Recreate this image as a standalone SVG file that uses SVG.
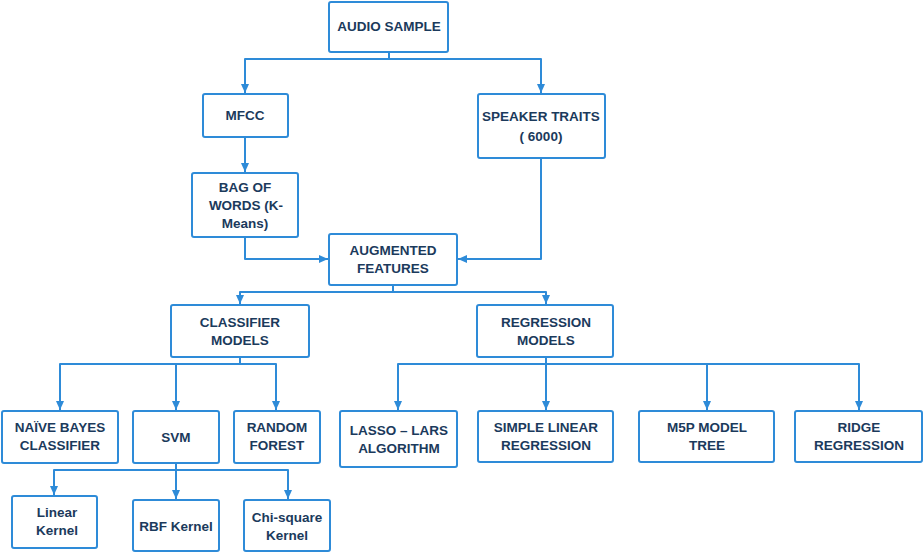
<svg xmlns="http://www.w3.org/2000/svg" width="924" height="553" viewBox="0 0 924 553">
<style>
.box{fill:#fff;stroke:#2e8bd8;stroke-width:2}
.t{font-family:"Liberation Sans",Arial,sans-serif;font-weight:bold;font-size:13.5px;fill:#1b3a5c;text-anchor:middle}
.c{fill:none;stroke:#2e8bd8;stroke-width:2;stroke-linejoin:round}
</style>
<defs>
<marker id="ah" markerUnits="userSpaceOnUse" markerWidth="10" markerHeight="10" viewBox="0 0 10 10" refX="9" refY="5" orient="auto">
<path d="M0,1 L9,5 L0,9 Z" fill="#2e8bd8"/>
</marker>
</defs>
<rect width="924" height="553" fill="#fff"/>
<g id="connectors">
<path class="c" d="M389,52 V59 H245 V93" marker-end="url(#ah)"/>
<path class="c" d="M389,52 V59 H541 V93" marker-end="url(#ah)"/>
<path class="c" d="M245,137 V172" marker-end="url(#ah)"/>
<path class="c" d="M245,237 V259 H328" marker-end="url(#ah)"/>
<path class="c" d="M541,158 V259 H458" marker-end="url(#ah)"/>
<path class="c" d="M393,285 V292 H240 V304" marker-end="url(#ah)"/>
<path class="c" d="M393,285 V292 H546 V304" marker-end="url(#ah)"/>
<path class="c" d="M240,357 V364 H60 V410" marker-end="url(#ah)"/>
<path class="c" d="M240,357 V364 H176 V410" marker-end="url(#ah)"/>
<path class="c" d="M240,357 V364 H276 V410" marker-end="url(#ah)"/>
<path class="c" d="M176,463 V470 H54 V495" marker-end="url(#ah)"/>
<path class="c" d="M176,463 V499" marker-end="url(#ah)"/>
<path class="c" d="M176,463 V470 H288 V499" marker-end="url(#ah)"/>
<path class="c" d="M546,357 V364 H398 V410" marker-end="url(#ah)"/>
<path class="c" d="M546,357 V410" marker-end="url(#ah)"/>
<path class="c" d="M546,357 V364 H707 V410" marker-end="url(#ah)"/>
<path class="c" d="M546,357 V364 H859 V410" marker-end="url(#ah)"/>
</g>
<g id="audio"><rect class="box" x="329" y="2" width="119" height="50" rx="2"/><text class="t" x="389" y="31">AUDIO SAMPLE</text></g>
<g id="mfcc"><rect class="box" x="203" y="94" width="85" height="43" rx="2"/><text class="t" x="245" y="120">MFCC</text></g>
<g id="speaker"><rect class="box" x="478" y="94" width="127" height="64" rx="2"/><text class="t" x="541" y="121">SPEAKER TRAITS</text><text class="t" x="541" y="141">( 6000)</text></g>
<g id="bow"><rect class="box" x="192" y="173" width="106" height="64" rx="2"/><text class="t" x="245" y="192">BAG OF</text><text class="t" x="246" y="210">WORDS (K-</text><text class="t" x="245" y="228">Means)</text></g>
<g id="augmented"><rect class="box" x="329" y="234" width="128" height="51" rx="2"/><text class="t" x="393" y="255">AUGMENTED</text><text class="t" x="393" y="273">FEATURES</text></g>
<g id="classifier"><rect class="box" x="171" y="305" width="138" height="52" rx="2"/><text class="t" x="240" y="327">CLASSIFIER</text><text class="t" x="240" y="345">MODELS</text></g>
<g id="regression"><rect class="box" x="477" y="305" width="136" height="52" rx="2"/><text class="t" x="546" y="327">REGRESSION</text><text class="t" x="546" y="345">MODELS</text></g>
<g id="naive"><rect class="box" x="2" y="411" width="116" height="52" rx="2"/><text class="t" x="60" y="432">NAÏVE BAYES</text><text class="t" x="60" y="450">CLASSIFIER</text></g>
<g id="svm"><rect class="box" x="133" y="411" width="86" height="52" rx="2"/><text class="t" x="176" y="442">SVM</text></g>
<g id="rf"><rect class="box" x="234" y="411" width="86" height="52" rx="2"/><text class="t" x="277" y="432">RANDOM</text><text class="t" x="277" y="450">FOREST</text></g>
<g id="linear"><rect class="box" x="12" y="496" width="85" height="52" rx="2"/><text class="t" x="57" y="517">Linear</text><text class="t" x="57" y="535">Kernel</text></g>
<g id="rbf"><rect class="box" x="133" y="500" width="86" height="51" rx="2"/><text class="t" x="176" y="531">RBF Kernel</text></g>
<g id="chi"><rect class="box" x="244" y="500" width="86" height="51" rx="2"/><text class="t" x="287" y="522">Chi-square</text><text class="t" x="287" y="540">Kernel</text></g>
<g id="lasso"><rect class="box" x="340" y="411" width="117" height="56" rx="2"/><text class="t" x="399" y="435">LASSO – LARS</text><text class="t" x="399" y="453">ALGORITHM</text></g>
<g id="slr"><rect class="box" x="478" y="411" width="135" height="51" rx="2"/><text class="t" x="546" y="432">SIMPLE LINEAR</text><text class="t" x="546" y="450">REGRESSION</text></g>
<g id="m5p"><rect class="box" x="639" y="411" width="135" height="51" rx="2"/><text class="t" x="707" y="432">M5P MODEL</text><text class="t" x="707" y="450">TREE</text></g>
<g id="ridge"><rect class="box" x="795" y="411" width="127" height="51" rx="2"/><text class="t" x="859" y="432">RIDGE</text><text class="t" x="859" y="450">REGRESSION</text></g>
</svg>
